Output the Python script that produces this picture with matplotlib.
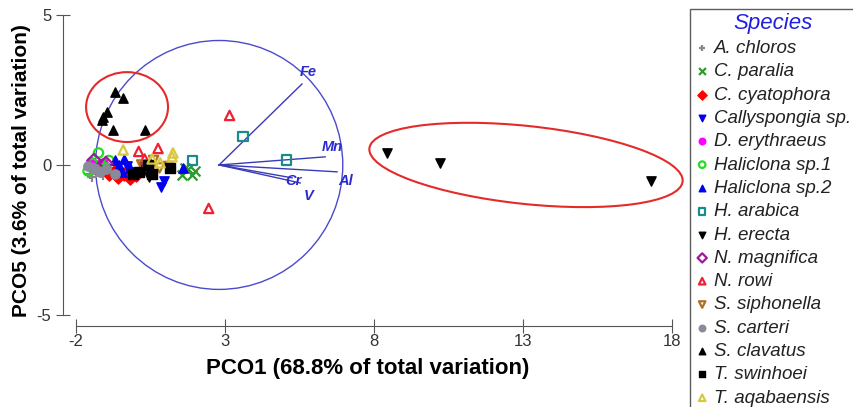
import matplotlib
matplotlib.use('Agg')
import matplotlib.pyplot as plt
from matplotlib.patches import Circle, Ellipse

plt.rcParams['font.family'] = ['Liberation Sans', 'DejaVu Sans']
plt.rcParams['axes.unicode_minus'] = False

# Species scores on PCO1 / PCO5
species = ['A. chloros', 'C. paralia', 'C. cyatophora', 'Callyspongia sp.',
           'D. erythraeus', 'Haliclona sp.1', 'Haliclona sp.2', 'H. arabica',
           'H. erecta', 'N. magnifica', 'N. rowi', 'S. siphonella',
           'S. carteri', 'S. clavatus', 'T. swinhoei', 'T. aqabaensis']

pco1 = [
    [-1.55, -1.3, -1.1, -0.9, -0.8, -1.45],
    [1.55, 1.75, 1.9, 1.65, 2.0],
    [-0.9, -0.6, -0.4, -0.2, 0.0, -0.7],
    [-0.3, 0.0, 0.3, 0.85, 0.95],
    [-1.5, -1.3, -1.1],
    [-1.6, -1.25, -0.9, -1.45, -1.0],
    [-0.7, -0.4, -0.45, -0.2, -0.55, 1.6],
    [1.9, 3.6, 5.05, 0.3],
    [8.45, 10.2, 17.3, 0.45],
    [-1.4, -1.0],
    [0.1, 0.75, 3.15, 2.45, 0.3],
    [0.2, 0.5, 0.8, 1.1, 0.6],
    [-1.4, -1.2, -1.0, -0.7, -1.6],
    [-0.69, -0.42, -0.96, -1.09, -1.13, -0.76, 0.32],
    [0.1, 0.4, 0.55, 1.15, -0.1],
    [-0.42, 1.22, 1.25, 0.82, 0.55],
]
pco5 = [
    [-0.3, -0.2, -0.35, -0.1, -0.25, -0.4],
    [-0.35, -0.15, -0.35, -0.1, -0.2],
    [-0.3, -0.4, -0.3, -0.45, -0.35, -0.2],
    [-0.05, -0.25, -0.15, -0.75, -0.55],
    [0.1, 0.0, 0.05],
    [-0.2, 0.4, 0.15, 0.05, -0.1],
    [0.15, 0.2, -0.25, -0.1, 0.0, -0.1],
    [0.15, 0.95, 0.17, -0.1],
    [0.4, 0.07, -0.55, -0.4],
    [0.15, 0.05],
    [0.45, 0.55, 1.65, -1.45, 0.2],
    [0.0, -0.15, -0.1, -0.05, 0.15],
    [-0.1, -0.25, -0.15, -0.3, -0.05],
    [2.43, 2.23, 1.77, 1.6, 1.5, 1.17, 1.17],
    [-0.25, 0.0, -0.3, -0.1, -0.3],
    [0.5, 0.27, 0.4, 0.07, 0.2],
]

# Environmental vectors
vec_names = ['Fe', 'Mn', 'Al', 'Cr', 'V']
vec_x = [5.58, 6.36, 6.76, 5.25, 5.52]
vec_y = [2.7, 0.27, -0.23, -0.43, -0.6]
vec_origin = (2.8, 0.0)

# styles: (marker, colour, filled)
styles = [('+', '#888888', True), ('x', '#2e9a2e', True), ('D', '#ff0000', True),
          ('v', '#0000ee', True), ('o', '#ff00ff', True), ('o', '#22dd22', False),
          ('^', '#0000ee', True), ('s', '#1a8a8a', False), ('v', '#000000', True),
          ('D', '#9a1a9a', False), ('^', '#ee2233', False), ('v', '#b07020', False),
          ('o', '#8a8a9a', True), ('^', '#000000', True), ('s', '#000000', True),
          ('^', '#d8c840', False)]

fig = plt.figure(figsize=(8.54, 4.07), dpi=100)
ax = fig.add_axes([63 / 854, 1 - 326 / 407, (672 - 63) / 854, (326 - 15) / 407])
ax.set_xlim(-2.44, 18)
ax.set_ylim(-5.37, 5)

for sp, xs, ys, (m, c, filled) in zip(species, pco1, pco5, styles):
    if m in ('+', 'x'):
        ax.scatter(xs, ys, marker=m, color=c, s=50, linewidths=1.6, label=sp, zorder=3)
    elif filled:
        ax.scatter(xs, ys, marker=m, color=c, s=45, edgecolors=c, label=sp, zorder=3)
    else:
        ax.scatter(xs, ys, marker=m, facecolors='none', edgecolors=c, s=45,
                   linewidths=1.6, label=sp, zorder=3)

# correlation circle and vectors
ax.add_patch(Circle(vec_origin, 4.15, fill=False, edgecolor='#4a4acc', lw=1.0, zorder=2))
label_off = {'Fe': (0.2, 0.4), 'Mn': (0.25, 0.33), 'Al': (0.3, -0.3),
             'Cr': (0.05, -0.12), 'V': (0.3, -0.42)}
for n, vx, vy in zip(vec_names, vec_x, vec_y):
    ax.plot([vec_origin[0], vx], [vec_origin[1], vy], color='#3a3ab8', lw=1.0, zorder=2)
    dx, dy = label_off[n]
    ax.text(vx + dx, vy + dy, n, color='#2a2ad0', fontsize=10.5, fontweight='bold',
            style='italic', ha='center', va='center', zorder=4)

# red group ellipses
ax.add_patch(Ellipse((-0.29, 1.93), 2.75, 2.33, fill=False, edgecolor='#e52a2a', lw=1.5, zorder=4))
ax.add_patch(Ellipse((13.1, 0.0), 10.57, 2.6, angle=-6, fill=False, edgecolor='#e52a2a',
                     lw=1.5, zorder=4, clip_on=False))

# detached axes
for s in ['top', 'right']:
    ax.spines[s].set_visible(False)
ax.spines['left'].set_bounds(-5, 5)
ax.spines['bottom'].set_bounds(-2, 18)
ax.spines['left'].set_color('#555555')
ax.spines['bottom'].set_color('#555555')
ax.set_xticks([-2, 3, 8, 13, 18])
ax.set_yticks([-5, 0, 5])
ax.tick_params(direction='inout', length=10, color='#555555', labelsize=12,
               labelcolor='#333333')
ax.tick_params(axis='x', pad=1)
ax.set_xlabel('PCO1 (68.8% of total variation)', fontsize=16, fontweight='bold',
              labelpad=6)
ax.set_ylabel('PCO5 (3.6% of total variation)', fontsize=15, fontweight='bold',
              labelpad=4)

leg = fig.legend(loc='upper left', bbox_to_anchor=(690 / 854, 0.978),
                 title='Species', fontsize=13.5, frameon=True, fancybox=False,
                 edgecolor='#333333', labelspacing=0.33, handletextpad=0.2,
                 handlelength=0.9, borderpad=0.2, markerscale=0.7,
                 borderaxespad=0)
leg.get_title().set_color('#2020dd')
leg.get_title().set_fontstyle('italic')
leg.get_title().set_fontsize(16)
leg.get_frame().set_linewidth(1.0)
for t in leg.get_texts():
    t.set_fontstyle('italic')
    t.set_color('#222222')

fig.savefig('out.png', dpi=100, facecolor='white')
print('done')
